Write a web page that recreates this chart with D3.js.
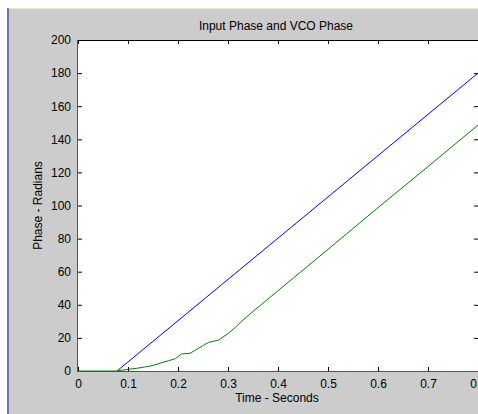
<!DOCTYPE html>
<html>
<head>
<meta charset="utf-8">
<script src="https://cdn.jsdelivr.net/npm/d3@7"></script>
<style>
  body { margin: 0; background: #fff; }
  svg text { font-family: "Liberation Sans", Arial, sans-serif; fill: #000; }
</style>
</head>
<body>
<div id="chart"></div>
<script>
// input phase (blue): straight ramp from the step time
var inputTime = [0.078, 0.8];
var inputPhase = [0, 180];

// VCO phase (green): lags behind, settles into the same slope
var vcoTime  = [0, 0.077, 0.10, 0.117, 0.135, 0.151, 0.165, 0.181, 0.195, 0.207, 0.224, 0.24, 0.261, 0.281, 0.301, 0.315, 0.33, 0.35, 0.4, 0.5, 0.6, 0.7, 0.8];
var vcoPhase = [0, 0, 1.0, 1.6, 2.5, 3.4, 4.8, 6.2, 7.5, 10.3, 10.7, 13.5, 17.3, 18.7, 22.8, 26.5, 30.8, 36.0, 48.5, 73.5, 98.7, 123.5, 148.6];

var xTicks = [0, 0.1, 0.2, 0.3, 0.4, 0.5, 0.6, 0.7, 0.8];
var yTicks = [0, 20, 40, 60, 80, 100, 120, 140, 160, 180, 200];

var W = 478, H = 414;
var margin = { top: 40, right: 0, bottom: 43, left: 78 };

var svg = d3.select("#chart").append("svg")
  .attr("width", W)
  .attr("height", H);

// figure frame: white strip, blue edge, gray panel
svg.append("rect").attr("x", 0).attr("y", 0).attr("width", W).attr("height", H).attr("fill", "#fff");
svg.append("rect").attr("x", 7).attr("y", 8).attr("width", W - 7).attr("height", H - 8).attr("fill", "#cccccc");
svg.append("rect").attr("x", 7).attr("y", 8).attr("width", 2).attr("height", H - 8).attr("fill", "#6b78b0");
svg.append("line").attr("x1", 9).attr("x2", W).attr("y1", 8.5).attr("y2", 8.5).attr("stroke", "#e8e8c8");

var x = d3.scaleLinear().domain([0, 0.8]).range([margin.left, W - margin.right]);
var y = d3.scaleLinear().domain([0, 200]).range([H - margin.bottom, margin.top]);

// axes box
svg.append("rect")
  .attr("x", x(0)).attr("y", y(200))
  .attr("width", x(0.8) - x(0)).attr("height", y(0) - y(200))
  .attr("fill", "#fff");

var axBottom = svg.append("g")
  .attr("transform", "translate(0," + y(0) + ")")
  .call(d3.axisBottom(x).tickValues(xTicks).tickSize(-4).tickPadding(8)
        .tickFormat(function (d) { return d === 0 ? "0" : d3.format(".1f")(d); }));
var axTop = svg.append("g")
  .attr("transform", "translate(0," + y(200) + ")")
  .call(d3.axisTop(x).tickValues(xTicks).tickSize(-4).tickFormat(""));
var axLeft = svg.append("g")
  .attr("transform", "translate(" + x(0) + ",0)")
  .call(d3.axisLeft(y).tickValues(yTicks).tickSize(-4).tickPadding(7));
var axRight = svg.append("g")
  .attr("transform", "translate(" + x(0.8) + ",0)")
  .call(d3.axisRight(y).tickValues(yTicks).tickSize(-4).tickFormat(""));

[axBottom, axTop, axLeft, axRight].forEach(function (g) {
  g.attr("font-family", null).attr("font-size", null);
  g.select(".domain").remove();
  g.selectAll(".tick line").attr("stroke", "#000");
  g.selectAll("text").attr("font-size", 12).attr("fill", "#000");
});

// box edges
svg.append("line").attr("x1", x(0)).attr("x2", x(0.8)).attr("y1", y(200) + 0.5).attr("y2", y(200) + 0.5).attr("stroke", "#000");
svg.append("line").attr("x1", x(0) - 0.5).attr("x2", x(0) - 0.5).attr("y1", y(200)).attr("y2", y(0) + 1).attr("stroke", "#555");
svg.append("line").attr("x1", x(0)).attr("x2", x(0.8)).attr("y1", y(0) + 0.5).attr("y2", y(0) + 0.5).attr("stroke", "#555");

var line = d3.line()
  .x(function (d) { return x(d[0]); })
  .y(function (d) { return y(d[1]); });

svg.append("path")
  .datum(d3.zip(inputTime, inputPhase))
  .attr("d", line)
  .attr("fill", "none")
  .attr("stroke", "#0000ff")
  .attr("stroke-width", 1);

svg.append("path")
  .datum(d3.zip(vcoTime, vcoPhase))
  .attr("d", line)
  .attr("fill", "none")
  .attr("stroke", "#008000")
  .attr("stroke-width", 1);

// labels
svg.append("text")
  .attr("x", 276).attr("y", 30)
  .attr("text-anchor", "middle")
  .attr("font-size", 12)
  .text("Input Phase and VCO Phase");

svg.append("text")
  .attr("x", 277).attr("y", 402)
  .attr("text-anchor", "middle")
  .attr("font-size", 12)
  .text("Time - Seconds");

svg.append("text")
  .attr("transform", "translate(42," + y(100) + ") rotate(-90)")
  .attr("text-anchor", "middle")
  .attr("font-size", 12)
  .text("Phase - Radians");
</script>
</body>
</html>
